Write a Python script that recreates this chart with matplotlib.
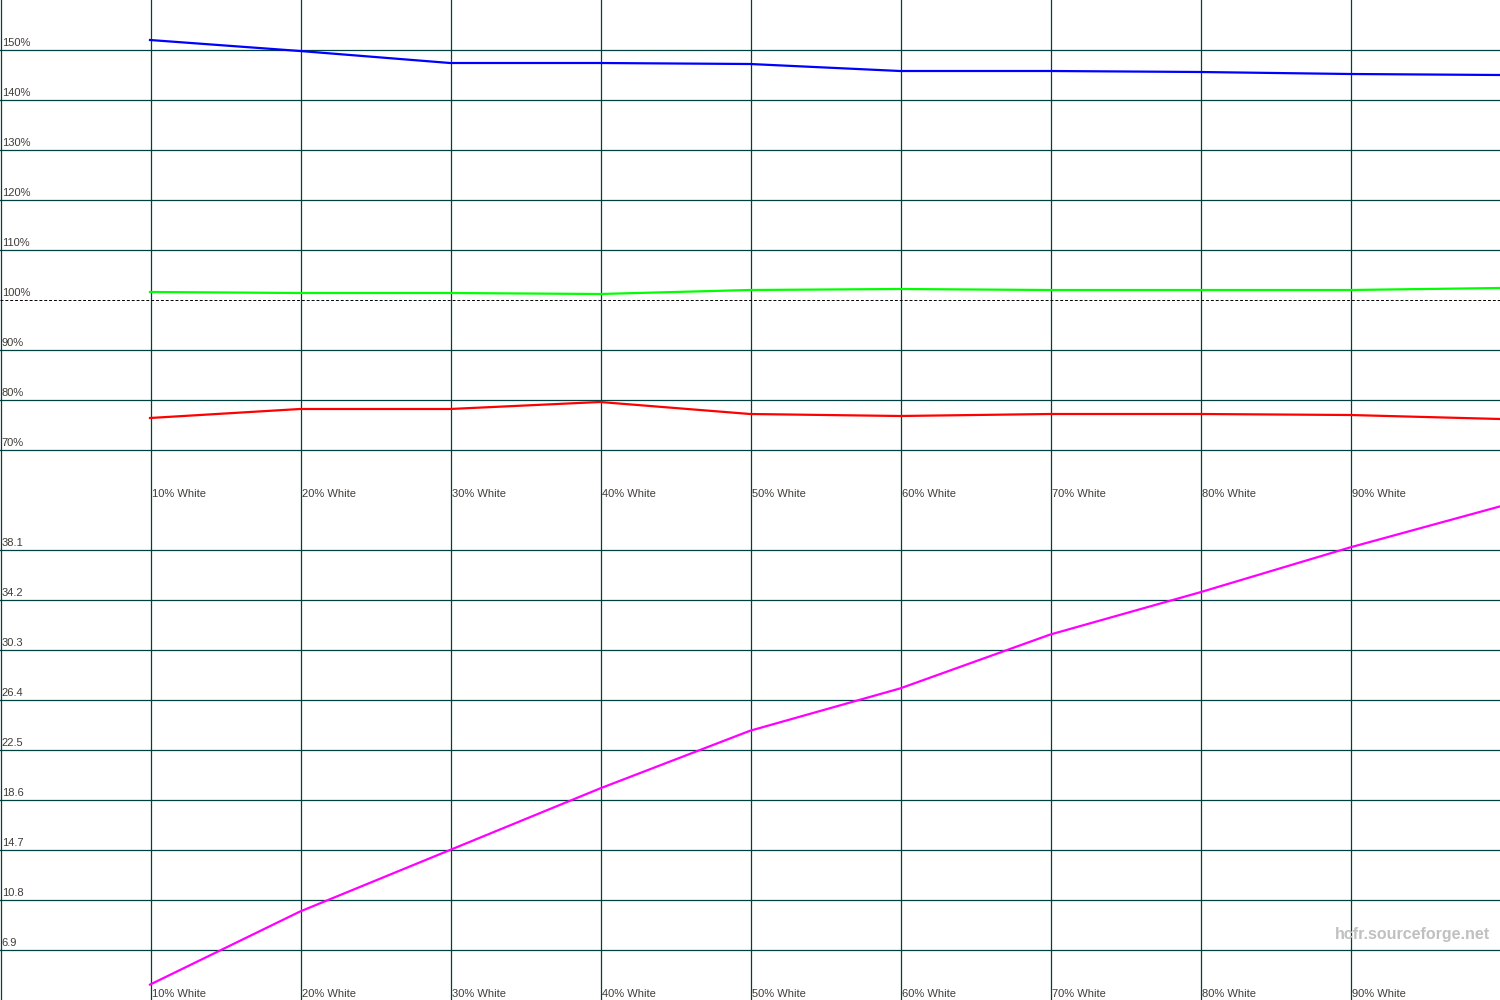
import matplotlib.pyplot as plt
import numpy as np

plt.rcParams['font.family'] = ['Liberation Sans', 'DejaVu Sans']

levels = [10, 20, 30, 40, 50, 60, 70, 80, 90, 100]
level_labels = ["10% White", "20% White", "30% White", "40% White", "50% White",
                "60% White", "70% White", "80% White", "90% White"]

# RGB levels (%)
blue = [152.0, 149.8, 147.4, 147.4, 147.2, 145.8, 145.8, 145.6, 145.2, 145.0]
green = [101.6, 101.4, 101.4, 101.2, 102.0, 102.2, 102.0, 102.0, 102.0, 102.4]
red = [76.4, 78.2, 78.2, 79.6, 77.2, 76.8, 77.2, 77.2, 77.0, 76.2]

# luminance
lum = [4.2, 9.9, 14.7, 19.5, 24.0, 27.3, 31.5, 34.8, 38.3, 41.5]

top_ticks = [70, 80, 90, 100, 110, 120, 130, 140, 150]
bot_ticks = [6.9, 10.8, 14.7, 18.6, 22.5, 26.4, 30.3, 34.2, 38.1]

grid_col = '#004040'
txt_col = '#403c38'

fig = plt.figure(figsize=(15, 10), dpi=100)
ax1 = fig.add_axes([0, 0.5, 1, 0.5])
ax2 = fig.add_axes([0, 0, 1, 0.5])

for ax in (ax1, ax2):
    ax.set_xlim(0, 100)
    ax.axis('off')
    for x in [0] + levels[:-1]:
        ax.axvline(x + 0.05, color=grid_col, lw=0.9, zorder=1)
    for x, lab in zip(levels[:-1], level_labels):
        ax.annotate(lab, xy=(x, 0), xycoords=ax.get_xaxis_transform(),
                    xytext=(1.5, 1), textcoords='offset points',
                    fontsize=8, color=txt_col, va='bottom', ha='left')

ax1.set_ylim(60, 160)
for t in top_ticks:
    if t == 100:
        ax1.axhline(t, color='black', lw=0.7, ls=(0, (3, 2)), zorder=1)
    else:
        ax1.axhline(t, color=grid_col, lw=0.9, zorder=1)
    ax1.annotate(f"{t}%", xy=(0, t), xycoords=ax1.get_yaxis_transform(),
                 xytext=(1.2, 1.5), textcoords='offset points',
                 fontsize=8, color=txt_col, va='bottom', ha='left')
ax1.plot(levels, blue, color='#0000ff', lw=1.6, zorder=3)
ax1.plot(levels, green, color='#00ff00', lw=1.6, zorder=3)
ax1.plot(levels, red, color='#ff0000', lw=1.6, zorder=3)

ax2.set_ylim(3.0, 42.0)
for t in bot_ticks:
    ax2.axhline(t, color=grid_col, lw=0.9, zorder=1)
    ax2.annotate(f"{t:.1f}", xy=(0, t), xycoords=ax2.get_yaxis_transform(),
                 xytext=(1.2, 1.5), textcoords='offset points',
                 fontsize=8, color=txt_col, va='bottom', ha='left')
ax2.plot(levels, lum, color='#ff00ff', lw=1.6, zorder=3)

fig.text(0.9935, 0.066, "hcfr.sourceforge.net", fontsize=11.5, fontweight='bold',
         color='#c0c0c0', ha='right', va='center')

fig.savefig("out.png", dpi=100, facecolor='white')
